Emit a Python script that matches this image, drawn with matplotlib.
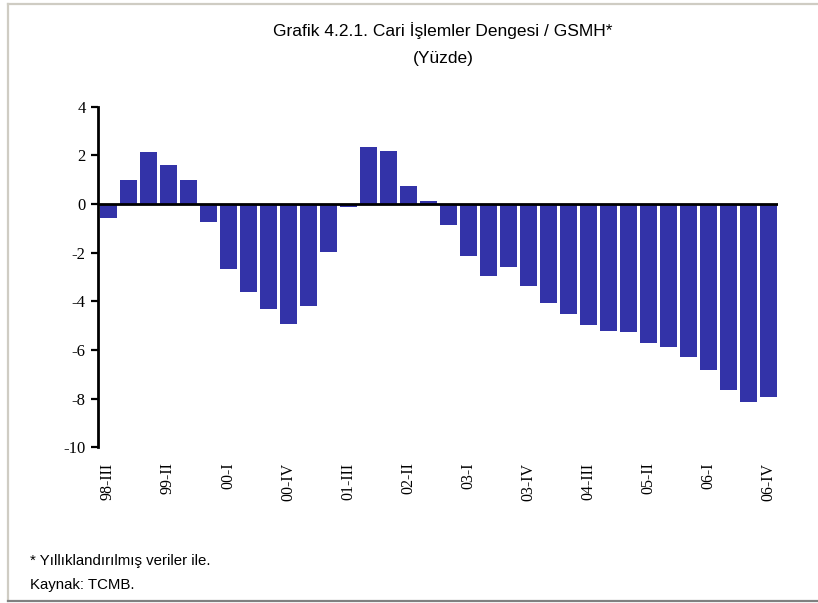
import matplotlib
matplotlib.use("Agg")
import matplotlib.pyplot as plt

# quarterly current account balance / GNP (%), 98-III .. 06-IV
QUARTERS = [f"{y:02d}-{q}" for y in [98, 99, 0, 1, 2, 3, 4, 5, 6]
            for q in ["I", "II", "III", "IV"]][2:]
VALUES = [-0.59, 0.97, 2.15, 1.62, 0.97, -0.73, -2.66, -3.60, -4.30, -4.92,
          -4.18, -1.96, -0.11, 2.36, 2.19, 0.75, 0.14, -0.85, -2.12, -2.95,
          -2.58, -3.36, -4.05, -4.51, -4.96, -5.21, -5.25, -5.70, -5.86, -6.27,
          -6.81, -7.63, -8.12, -7.92]
YTICKS = [4, 2, 0, -2, -4, -6, -8, -10]

SANS = ["Liberation Sans Narrow", "Liberation Sans", "DejaVu Sans"]
SERIF = ["Liberation Serif", "DejaVu Serif"]
BAR = "#3333a8"

fig = plt.figure(figsize=(8.18, 6.03), dpi=100)
fig.patch.set_facecolor("white")

# frame around the page
fig.add_artist(plt.Line2D([7.5 / 818, 818 / 818], [1 - 3.5 / 603] * 2,
                          color="#cfccc3", lw=1.6, transform=fig.transFigure))
fig.add_artist(plt.Line2D([7.5 / 818] * 2, [1 - 3.5 / 603, 1 - 601 / 603],
                          color="#cfccc3", lw=1.6, transform=fig.transFigure))
fig.add_artist(plt.Line2D([7.5 / 818, 1], [1 - 601 / 603] * 2,
                          color="#808080", lw=1.6, transform=fig.transFigure))

ax = fig.add_axes([98 / 818, 1 - 447.3 / 603, 680 / 818, (447.3 - 106.7) / 603])
x = range(len(VALUES))
ax.bar(x, VALUES, width=0.85, color=BAR, zorder=2)
ax.axhline(0, color="black", lw=2, zorder=3)

ax.set_xlim(-0.5, len(VALUES) - 0.5)
ax.set_ylim(-10, 4)
ax.set_yticks(YTICKS)
ax.set_yticklabels([str(v) for v in YTICKS], family=SERIF, fontsize=12)
ax.set_xticks(list(x)[::3])
ax.set_xticklabels(QUARTERS[::3], rotation=90, family=SERIF, fontsize=11.5,
                   va="top", ha="center")
ax.tick_params(axis="x", length=0, pad=11)
ax.tick_params(axis="y", length=5, width=1.6, direction="out", pad=4)
for side in ["top", "right", "bottom"]:
    ax.spines[side].set_visible(False)
ax.spines["left"].set_linewidth(2)

fig.text(443 / 818, 1 - 31 / 603, "Grafik 4.2.1. Cari İşlemler Dengesi / GSMH*",
         ha="center", va="center", fontsize=12.5, family=SANS)
fig.text(443 / 818, 1 - 58 / 603, "(Yüzde)", ha="center", va="center",
         fontsize=12.5, family=SANS)
fig.text(30 / 818, 1 - 561 / 603, "* Yıllıklandırılmış veriler ile.",
         ha="left", va="center", fontsize=10.8, family=SANS)
fig.text(30 / 818, 1 - 585 / 603, "Kaynak: TCMB.", ha="left", va="center",
         fontsize=10.8, family=SANS)

fig.savefig("out.png", dpi=100, facecolor="white")
